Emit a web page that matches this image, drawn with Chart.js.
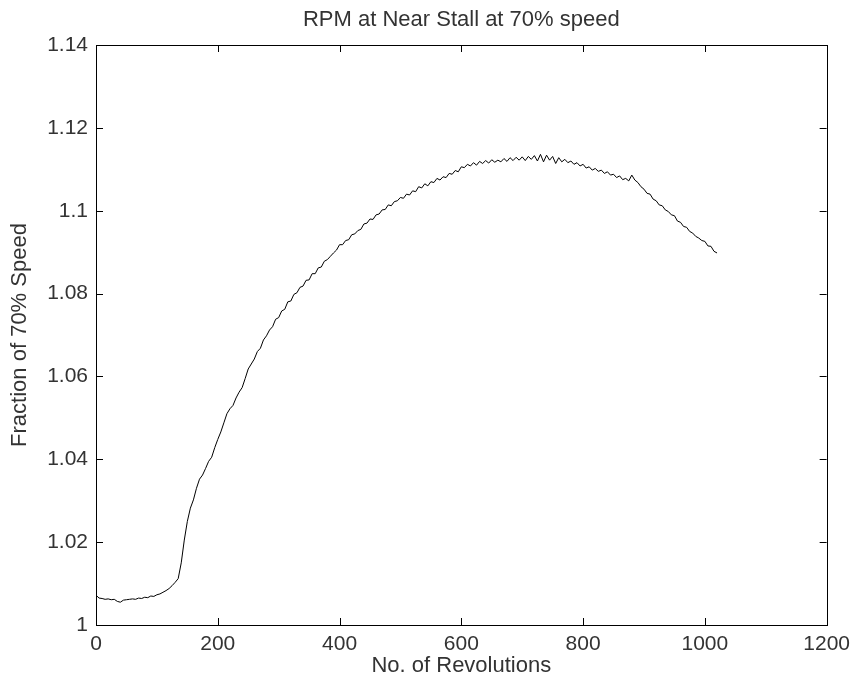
<!DOCTYPE html>
<html>
<head>
<meta charset="utf-8">
<script src="https://cdn.jsdelivr.net/npm/chart.js@4"></script>
<style>
  html, body { margin: 0; padding: 0; background: #fff; }
  canvas { display: block; }
</style>
</head>
<body>
<canvas id="rpm" width="857" height="686"></canvas>
<script>
// DATA (revolutions vs fraction of 70% speed)
const chartTitle = 'RPM at Near Stall at 70% speed';
const xTitle = 'No. of Revolutions';
const yTitle = 'Fraction of 70% Speed';

const xTicks = [0, 200, 400, 600, 800, 1000, 1200];
const yTicks = [1, 1.02, 1.04, 1.06, 1.08, 1.1, 1.12, 1.14];

const revs = [
  0, 5, 10, 15, 20, 25, 30, 35, 40, 45, 50, 55, 60, 65, 70, 75, 80, 85, 90, 95,
  100, 105, 110, 115, 120, 125, 130, 135, 140, 145, 150, 155, 160, 165, 170, 175, 180, 185, 190, 195,
  200, 205, 210, 215, 220, 225, 230, 235, 240, 245, 250, 255, 260, 265, 270, 275, 280, 285, 290, 295,
  300, 305, 310, 315, 320, 325, 330, 335, 340, 345, 350, 355, 360, 365, 370, 375, 380, 385, 390, 395,
  400, 405, 410, 415, 420, 425, 430, 435, 440, 445, 450, 455, 460, 465, 470, 475, 480, 485, 490, 495,
  500, 505, 510, 515, 520, 525, 530, 535, 540, 545, 550, 555, 560, 565, 570, 575, 580, 585, 590, 595,
  600, 605, 610, 615, 620, 625, 630, 635, 640, 645, 650, 655, 660, 665, 670, 675, 680, 685, 690, 695,
  700, 705, 710, 715, 720, 725, 730, 735, 740, 745, 750, 755, 760, 765, 770, 775, 780, 785, 790, 795,
  800, 805, 810, 815, 820, 825, 830, 835, 840, 845, 850, 855, 860, 865, 870, 875, 880, 885, 890, 895,
  900, 905, 910, 915, 920, 925, 930, 935, 940, 945, 950, 955, 960, 965, 970, 975, 980, 985, 990, 995,
  1000, 1005, 1010, 1015, 1020
];

const speed = [
  1.0072, 1.0065, 1.0064, 1.0062, 1.0063, 1.0061, 1.0062, 1.0057, 1.0055, 1.0060,
  1.0061, 1.0062, 1.0063, 1.0062, 1.0065, 1.0064, 1.0067, 1.0066, 1.0070, 1.0069,
  1.0073, 1.0075, 1.0079, 1.0083, 1.0088, 1.0095, 1.0103, 1.0112, 1.0150, 1.0205,
  1.0250, 1.0282, 1.0302, 1.0330, 1.0352, 1.0362, 1.0378, 1.0395, 1.0405, 1.0428,
  1.0448, 1.0466, 1.0488, 1.0510, 1.0522, 1.0530, 1.0548, 1.0562, 1.0573, 1.0595,
  1.0618, 1.0630, 1.0642, 1.0660, 1.0668, 1.0688, 1.0698, 1.0712, 1.0720, 1.0738,
  1.0742, 1.0758, 1.0762, 1.0780, 1.0782, 1.0798, 1.0802, 1.0815, 1.0818, 1.0832,
  1.0833, 1.0848, 1.0848, 1.0862, 1.0864, 1.0878, 1.0882, 1.0890, 1.0898, 1.0905,
  1.0918, 1.0918, 1.0928, 1.0930, 1.0942, 1.0944, 1.0952, 1.0955, 1.0968, 1.0970,
  1.0980, 1.0979, 1.0990, 1.0992, 1.1002, 1.1003, 1.1014, 1.1012, 1.1022, 1.1024,
  1.1032, 1.1030, 1.1040, 1.1038, 1.1048, 1.1046, 1.1058, 1.1055, 1.1065, 1.1060,
  1.1070, 1.1068, 1.1078, 1.1074, 1.1082, 1.1080, 1.1090, 1.1088, 1.1097, 1.1094,
  1.1106, 1.1104, 1.1112, 1.1108, 1.1116, 1.1110, 1.1119, 1.1114, 1.1121, 1.1115,
  1.1123, 1.1117, 1.1122, 1.1118, 1.1126, 1.1119, 1.1128, 1.1121, 1.1129, 1.1122,
  1.1130, 1.1121, 1.1131, 1.1124, 1.1133, 1.1120, 1.1136, 1.1118, 1.1134, 1.1122,
  1.1131, 1.1114, 1.1128, 1.1118, 1.1124, 1.1116, 1.1120, 1.1112, 1.1116, 1.1108,
  1.1112, 1.1103, 1.1106, 1.1098, 1.1102, 1.1095, 1.1098, 1.1090, 1.1094, 1.1086,
  1.1088, 1.1080, 1.1084, 1.1075, 1.1078, 1.1072, 1.1086, 1.1074, 1.1068, 1.1058,
  1.1052, 1.1042, 1.1040, 1.1028, 1.1024, 1.1014, 1.1012, 1.1002, 1.0998, 1.0990,
  1.0988, 1.0975, 1.0972, 1.0962, 1.0960, 1.0950, 1.0946, 1.0938, 1.0934, 1.0928,
  1.0926, 1.0915, 1.0914, 1.0902, 1.0898
];

const FONT = "'Liberation Sans', Arial, sans-serif";
const TEXT = '#333';

// matlab style box + inward ticks on all four sides, plus the title
const boxPlugin = {
  id: 'box',
  afterDraw(chart) {
    const ctx = chart.ctx;
    const a = chart.chartArea;
    const xs = chart.scales.x, ys = chart.scales.y;
    const tick = 7;
    ctx.save();
    ctx.strokeStyle = '#000';
    ctx.lineWidth = 1;
    ctx.strokeRect(Math.round(a.left) + 0.5, Math.round(a.top) + 0.5,
      Math.round(a.right - a.left), Math.round(a.bottom - a.top));
    ctx.beginPath();
    xTicks.forEach(v => {
      const px = Math.round(xs.getPixelForValue(v)) + 0.5;
      ctx.moveTo(px, a.bottom); ctx.lineTo(px, a.bottom - tick);
      ctx.moveTo(px, a.top); ctx.lineTo(px, a.top + tick);
    });
    yTicks.forEach(v => {
      const py = Math.round(ys.getPixelForValue(v)) + 0.5;
      ctx.moveTo(a.left, py); ctx.lineTo(a.left + tick, py);
      ctx.moveTo(a.right, py); ctx.lineTo(a.right - tick, py);
    });
    ctx.stroke();
    // title
    ctx.fillStyle = TEXT;
    ctx.font = '22px ' + FONT;
    ctx.textAlign = 'center';
    ctx.textBaseline = 'middle';
    ctx.fillText(chartTitle, (a.left + a.right) / 2, 20);
    ctx.restore();
  }
};

const points = revs.map((r, i) => ({ x: r, y: speed[i] }));

new Chart(document.getElementById('rpm'), {
  type: 'line',
  data: {
    datasets: [{
      data: points,
      borderColor: '#000',
      borderWidth: 1,
      pointRadius: 0,
      tension: 0,
      fill: false,
    }],
  },
  options: {
    responsive: false,
    animation: false,
    devicePixelRatio: 1,
    layout: { padding: { top: 45, right: 27, bottom: 0, left: 0 } },
    plugins: {
      legend: { display: false },
      tooltip: { enabled: false },
    },
    scales: {
      x: {
        type: 'linear',
        min: 0,
        max: 1200,
        afterBuildTicks: (s) => { s.ticks = xTicks.map(v => ({ value: v })); },
        afterFit: (s) => { s.height = 61; },
        grid: { display: false, drawTicks: false },
        border: { display: false },
        ticks: {
          padding: 7,
          color: TEXT,
          font: { family: FONT, size: 21 },
          maxRotation: 0,
          callback: (v) => String(v),
        },
        title: {
          display: true,
          text: xTitle,
          color: TEXT,
          font: { family: FONT, size: 22 },
          padding: { top: 0, bottom: 7 },
        },
      },
      y: {
        type: 'linear',
        min: 1,
        max: 1.14,
        afterBuildTicks: (s) => { s.ticks = yTicks.map(v => ({ value: v })); },
        afterFit: (s) => { s.width = 96; },
        grid: { display: false, drawTicks: false },
        border: { display: false },
        ticks: {
          padding: 8,
          color: TEXT,
          font: { family: FONT, size: 21 },
          callback: (v) => String(Math.round(v * 100) / 100),
        },
        title: {
          display: true,
          text: yTitle,
          color: TEXT,
          font: { family: FONT, size: 22 },
          padding: { top: 7, bottom: 0 },
        },
      },
    },
  },
  plugins: [boxPlugin],
});
</script>
</body>
</html>
